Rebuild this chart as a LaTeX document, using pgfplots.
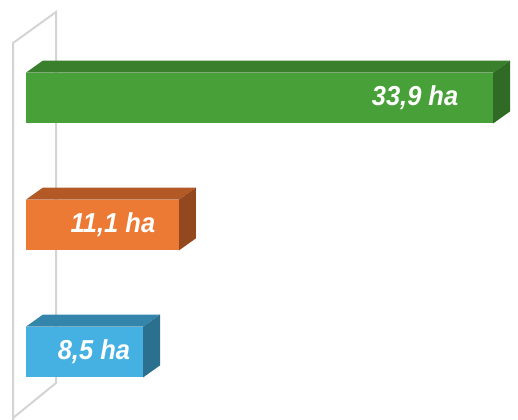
\documentclass[border=0pt]{standalone}
\usepackage{fontspec}
\setmainfont{Liberation Sans}
\newfontfamily\labelfont[FakeStretch=0.93]{Liberation Sans}
\usepackage{pgfplots}
\pgfplotsset{compat=1.18}

\definecolor{wallgray}{RGB}{212,212,212}
\definecolor{gfront}{RGB}{71,161,56}
\definecolor{gtop}{RGB}{58,128,44}
\definecolor{gside}{RGB}{47,107,36}
\definecolor{ofront}{RGB}{236,121,52}
\definecolor{otop}{RGB}{178,89,38}
\definecolor{oside}{RGB}{148,72,30}
\definecolor{bfront}{RGB}{69,176,226}
\definecolor{btop}{RGB}{52,133,172}
\definecolor{bside}{RGB}{44,112,143}

\begin{document}
\begin{tikzpicture}
\begin{axis}[
    scale only axis,
    width=518bp, height=420bp,
    xmin=-1.887, xmax=35.70,
    ymin=-0.5354, ymax=2.7717,
    hide axis, clip=false,
]
% side wall
\addplot[wallgray, line width=2bp, mark=none] coordinates {(-0.943,-0.5354) (-0.943,2.433) (2.177,2.677) (2.177,-0.244) (-0.943,-0.5197)};

% green bar: 33.9 ha
\addplot[fill=gtop, draw=none, mark=none] coordinates {(0,2.2) (33.9,2.2) (35.13,2.295) (1.23,2.295)};
\addplot[fill=gside, draw=none, mark=none] coordinates {(33.9,2.2) (35.13,2.295) (35.13,1.895) (33.9,1.8)};
\addplot[xbar, bar width=0.4, fill=gfront, draw=none] coordinates {(33.9,2)};

% orange bar: 11.1 ha
\addplot[fill=otop, draw=none, mark=none] coordinates {(0,1.2) (11.1,1.2) (12.33,1.295) (1.23,1.295)};
\addplot[fill=oside, draw=none, mark=none] coordinates {(11.1,1.2) (12.33,1.295) (12.33,0.895) (11.1,0.8)};
\addplot[xbar, bar width=0.4, fill=ofront, draw=none] coordinates {(11.1,1)};

% blue bar: 8.5 ha
\addplot[fill=btop, draw=none, mark=none] coordinates {(0,0.2) (8.5,0.2) (9.73,0.295) (1.23,0.295)};
\addplot[fill=bside, draw=none, mark=none] coordinates {(8.5,0.2) (9.73,0.295) (9.73,-0.105) (8.5,-0.2)};
\addplot[xbar, bar width=0.4, fill=bfront, draw=none] coordinates {(8.5,0)};

\tikzset{lbl/.style={text=white, inner sep=0pt, font=\labelfont\bfseries\itshape\fontsize{27.5}{27.5}\selectfont}}
\node[lbl] at (axis cs:28.23,2) {33,9 ha};
\node[lbl] at (axis cs:6.31,1) {11,1 ha};
\node[lbl] at (axis cs:4.93,0) {8,5 ha};
\end{axis}
\pgfresetboundingbox
\path (current axis.south west) rectangle (current axis.north east);
\end{tikzpicture}
\end{document}
